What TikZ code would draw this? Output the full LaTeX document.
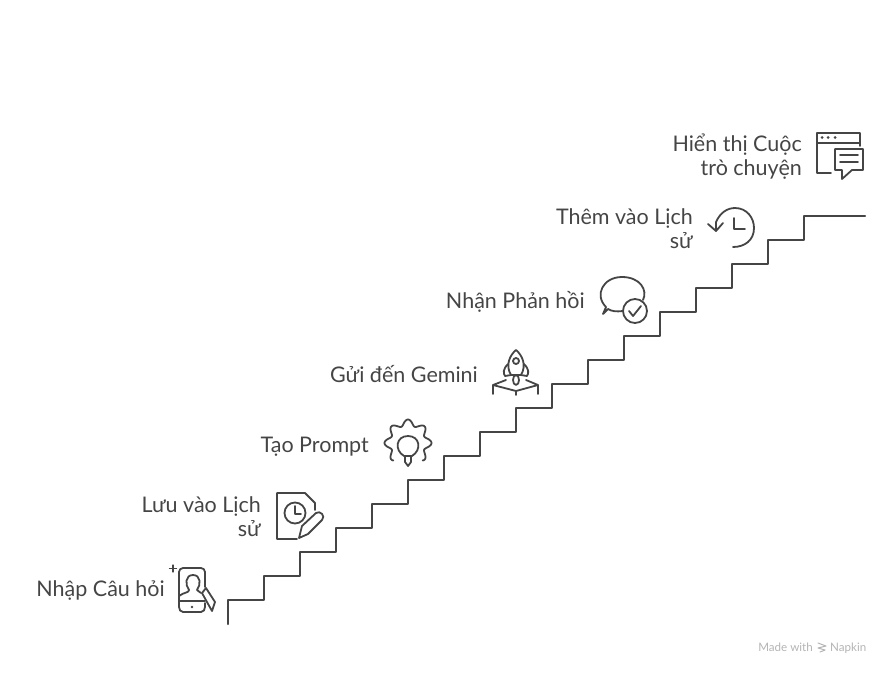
\documentclass[tikz,border=0pt]{standalone}
\usepackage{fontspec}
\setmainfont{Lato}
\definecolor{ink}{HTML}{454545}
\definecolor{wmgray}{HTML}{B4B4B4}
\tikzset{
  lbl/.style={anchor=east,inner sep=0pt,align=right,text=ink,font=\fontsize{21.5}{24}\selectfont},
  ico/.style={draw=ink,line width=1.8pt},
  stair/.style={draw=ink,line width=2.2pt},
  wm/.style={inner sep=0pt,text=wmgray,font=\fontsize{11.6}{12}\selectfont}
}
\begin{document}
\begin{tikzpicture}[line cap=round,line join=round,x=1pt,y=-1pt]
        \useasboundingbox (0,0) rectangle (888,672);
        \node[lbl] (nhap) at (165,590.5) {Nhập Câu hỏi};
        \node[lbl] (luu) at (261,517) {Lưu vào Lịch\\sử};
        \node[lbl] (tao) at (369,447) {Tạo Prompt};
        \node[lbl] (gui) at (478,374) {Gửi đến Gemini};
        \node[lbl] (nhan) at (585,302) {Nhận Phản hồi};
        \node[lbl] (them) at (693,229) {Thêm vào Lịch\\sử};
        \node[lbl] (hien) at (802,157) {Hiển thị Cuộc\\trò chuyện};

        % stairs
        \draw[stair] (228,624) -- (228,600)
          \foreach \i in {1,...,16} { -- ++(36,0) -- ++(0,-24) } -- ++(61,0);

        % phone
        \draw[ico] (183,568) -- (201,568) to[out=0,in=90] (205,572) -- (205,587)
          (205,603) -- (205,607) to[out=-90,in=0] (201,612) -- (183,612)
          to[out=180,in=-90] (179,607) -- (179,572) to[out=90,in=180] (183,568);
        \draw[ico] (179,601) -- (205,601) (179,596) .. controls (184,592) and (189,593) .. (189,590)
          .. controls (185,585) and (185,575) .. (193,575)
          .. controls (201,575) and (201,585) .. (197,590) -- (201,593);
        \fill[ink] (192,607) circle (1.3);
        \draw[ico] (202,593) -- (206,588) -- (215,602) -- (212,611) -- cycle;
        \draw[ink,line width=1.2pt] (173,565) -- (173,572) (169.5,568.5) -- (176.5,568.5);

        % document with clock and pencil
        \draw[ico] (297,539) -- (277,539) -- (277,493) -- (305,493) -- (315,503) -- (315,510);
        \draw[ico] (295,513) circle (10.5) (295,506) -- (295,514) -- (301,514);
        \draw[ico] (299,538) -- (302,526) -- (316,513) .. controls (320,510) and (326,516) .. (322,520)
          -- (308,534) -- cycle;

        % gear with bulb
        \draw[ico,smooth,domain=-50:230,samples=120]
          plot ({408+(20.5+3*cos(8*(\x-90)))*cos(\x)},{443-(20.5+3*cos(8*(\x-90)))*sin(\x)});
        \draw[ico] (404,456) .. controls (394,450) and (396,436) .. (408,436)
          .. controls (420,436) and (422,450) .. (412,456) -- (404,456) (405,456) -- (405,462)
          -- (408,466) -- (411,462) -- (411,456);

        % rocket
        \draw[ico] (511,375) .. controls (505,365) and (510,355) .. (516,350)
          .. controls (522,355) and (527,365) .. (521,375) -- cycle;
        \draw[ico] (516,361) circle (3);
        \draw[ico] (508,364) .. controls (503,369) and (503,373) .. (505,376) -- (511,375)
          (524,364) .. controls (529,369) and (529,373) .. (527,376) -- (521,375);
        \draw[ico] (516,380) ellipse (3 and 5);
        \draw[ico] (493,394) -- (493,385) -- (516,391) -- (538,385) -- (538,394)
          (493,385) -- (506,380) (538,385) -- (526,380) (516,391) -- (516,395);

        % speech bubble with check
        \draw[ico] (623,311) .. controls (616,312) and (611,311) .. (608,309) -- (603,314) -- (606,307)
          .. controls (594,295) and (603,277) .. (622,277)
          .. controls (640,277) and (648,290) .. (643,300);
        \draw[ico] (635,311) circle (12) (629,311) -- (633,316) -- (641,306);

        % clock with arrow
        \draw[ico] (716,231) -- (716,222) .. controls (720,213) and (727,208) .. (735,208)
          .. controls (747,208) and (754,218) .. (754,228)
          .. controls (754,240) and (745,247) .. (733,247);
        \draw[ico] (708,224) -- (716,231) -- (723,223) (734,218) -- (734,229) -- (745,229);

        % window with message
        \draw[ico] (831,173) -- (817,173) -- (817,133) -- (860,133) -- (860,146) (817,143) -- (860,143);
        \foreach \i in {822,828,835} { \fill[ink] (\i,137.5) circle (1.5); }
        \draw[ico] (835,149) -- (863,149) -- (863,170) -- (852,170) -- (842,179) -- (842,170)
          -- (835,170) -- cycle (840,155) -- (858,155) (840,162) -- (858,162);

        % watermark
        \node[wm,anchor=base east] (made) at (813,651) {Made with};
        \node[wm,anchor=base west] (napkin) at (830,651) {Napkin};
        \draw[wmgray,line width=1pt] (818,643) -- (826,646) -- (818,648) -- (825,650) -- (820,652);
      \end{tikzpicture}
\end{document}
